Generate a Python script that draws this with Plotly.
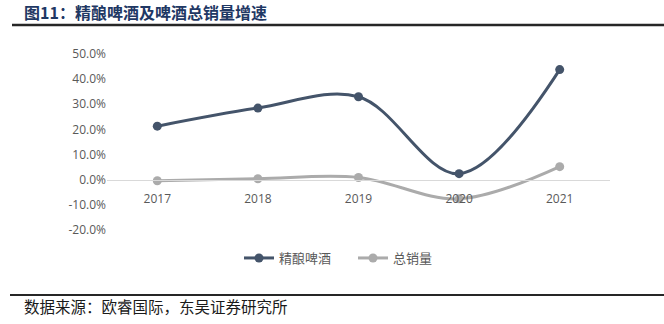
import plotly.graph_objects as go

years = ["2017", "2018", "2019", "2020", "2021"]
craft = [0.213, 0.285, 0.330, 0.024, 0.438]
total = [-0.004, 0.004, 0.009, -0.076, 0.052]
series_names = ["精酿啤酒", "总销量"]
ytickvals = [0.5, 0.4, 0.3, 0.2, 0.1, 0.0, -0.1, -0.2]
yticktext = ["50.0%", "40.0%", "30.0%", "20.0%", "10.0%", "0.0%", "-10.0%", "-20.0%"]

C_DARK = "#44546A"
C_GREY = "#ABABAB"
TXT = "#595959"
CJK = "Noto Sans CJK SC"

fig = go.Figure()
fig.add_trace(go.Scatter(x=years, y=craft, name=series_names[0], mode="lines+markers",
                         line=dict(color=C_DARK, width=3, shape="spline", smoothing=1.0),
                         marker=dict(color=C_DARK, size=9)))
fig.add_trace(go.Scatter(x=years, y=total, name=series_names[1], mode="lines+markers",
                         line=dict(color=C_GREY, width=3, shape="spline", smoothing=1.0),
                         marker=dict(color=C_GREY, size=9)))

ymin, ymax = -0.2, 0.5
PW, PH = 503, 176
fig.update_layout(
    width=664, height=324,
    margin=dict(l=107, r=54, t=54, b=94, autoexpand=False),
    paper_bgcolor="white", plot_bgcolor="white",
    showlegend=True,
    legend=dict(orientation="h", x=(239 - 107) / PW, xanchor="left", y=-(258 - 230) / PH,
                yanchor="middle", entrywidth=69,
                font=dict(family=CJK, size=13, color=TXT)),
    xaxis=dict(type="category", range=[-0.5, 4.5], anchor="free",
               position=(0 - ymin) / (ymax - ymin),
               showline=True, linecolor="#D9D9D9", linewidth=1, showgrid=False,
               ticks="outside", ticklen=8, tickcolor="rgba(0,0,0,0)",
               tickfont=dict(family="Open Sans", size=12, color=TXT)),
    yaxis=dict(range=[ymin, ymax], tickvals=ytickvals, ticktext=yticktext,
               showgrid=False, zeroline=False, showline=False, ticks="",
               tickfont=dict(family="Open Sans", size=12, color=TXT)),
    font=dict(family=CJK),
)

fig.add_annotation(text="<b>图11：精酿啤酒及啤酒总销量增速</b>", xref="paper", yref="paper",
                   x=(22 - 107) / PW, y=1 + (54 - 12) / PH, xanchor="left", yanchor="middle",
                   showarrow=False, font=dict(family=CJK, size=16, color="#1F3864"))
fig.add_annotation(text="数据来源：欧睿国际，东吴证券研究所", xref="paper", yref="paper",
                   x=(22 - 107) / PW, y=-(306 - 230) / PH, xanchor="left", yanchor="middle",
                   showarrow=False, font=dict(family=CJK, size=15.5, color="#1a1a1a"))
fig.add_shape(type="line", xref="paper", yref="paper", x0=(12 - 107) / PW, x1=1 + 54 / PW,
              y0=1 + (54 - 25) / PH, y1=1 + (54 - 25) / PH, line=dict(color="#262626", width=2.5))
fig.add_shape(type="line", xref="paper", yref="paper", x0=(10 - 107) / PW, x1=1 + 54 / PW,
              y0=-(295 - 230) / PH, y1=-(295 - 230) / PH, line=dict(color="#262626", width=2))

fig.write_html("out.html")
